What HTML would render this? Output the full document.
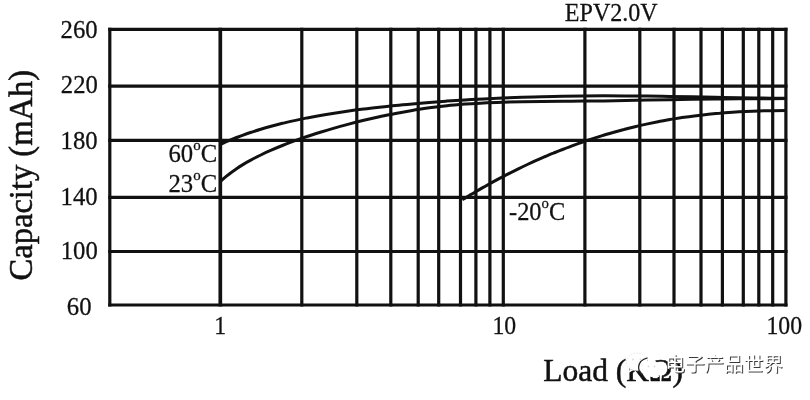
<!DOCTYPE html>
<html>
<head>
<meta charset="utf-8">
<title>EPV2.0V Capacity vs Load</title>
<style>
html,body{margin:0;padding:0;background:#fff;}
body{width:810px;height:400px;overflow:hidden;font-family:"Liberation Serif",serif;}
svg{display:block;will-change:transform;transform:translateZ(0);}
text{font-family:"Liberation Serif",serif;fill:#111;}
.g line{stroke:#111;stroke-width:3.2;}
.c path{stroke:#111;stroke-width:3.0;fill:none;stroke-linecap:butt;stroke-linejoin:round;}
.t{font-size:24px;stroke:#111;stroke-width:0.25px;}
.big{font-size:32px;stroke:#111;stroke-width:0.5px;}
.sup{font-size:14.5px;}
</style>
</head>
<body>
<svg width="810" height="400" viewBox="0 0 810 400">
<rect width="810" height="400" fill="#fff"/>
<!-- grid -->
<g class="g">
<!-- horizontals -->
<line x1="108.2" x2="787.5" y1="29.4" y2="29.4"/>
<line x1="108.2" x2="787.5" y1="86.2" y2="86.2"/>
<line x1="108.2" x2="787.5" y1="140.3" y2="140.3"/>
<line x1="108.2" x2="787.5" y1="197.3" y2="197.3"/>
<line x1="108.2" x2="787.5" y1="251.5" y2="251.5"/>
<line x1="108.2" x2="787.5" y1="305" y2="305"/>
<!-- verticals -->
<line x1="109.8" x2="109.8" y1="27.8" y2="306.6"/>
<line x1="220.3" x2="220.3" y1="27.8" y2="306.6" style="stroke-width:3.7"/>
<line x1="301.8" x2="301.8" y1="27.8" y2="306.6"/>
<line x1="356.8" x2="356.8" y1="27.8" y2="306.6"/>
<line x1="390.8" x2="390.8" y1="27.8" y2="306.6"/>
<line x1="418.2" x2="418.2" y1="27.8" y2="306.6"/>
<line x1="438.7" x2="438.7" y1="27.8" y2="306.6"/>
<line x1="460.5" x2="460.5" y1="27.8" y2="306.6"/>
<line x1="475.9" x2="475.9" y1="27.8" y2="306.6"/>
<line x1="489.9" x2="489.9" y1="27.8" y2="306.6"/>
<line x1="503.3" x2="503.3" y1="27.8" y2="306.6"/>
<line x1="584.9" x2="584.9" y1="27.8" y2="306.6"/>
<line x1="639.8" x2="639.8" y1="27.8" y2="306.6"/>
<line x1="674" x2="674" y1="27.8" y2="306.6"/>
<line x1="701" x2="701" y1="27.8" y2="306.6"/>
<line x1="722.4" x2="722.4" y1="27.8" y2="306.6"/>
<line x1="743.3" x2="743.3" y1="27.8" y2="306.6"/>
<line x1="758.8" x2="758.8" y1="27.8" y2="306.6"/>
<line x1="772.7" x2="772.7" y1="27.8" y2="306.6"/>
<line x1="785.9" x2="785.9" y1="27.8" y2="306.6"/>
</g>
<!-- curves -->
<g class="c">
<path d="M220.6,144.3 C221.1,144.1 222.0,143.7 223.3,143.1 C224.6,142.5 226.4,141.7 228.3,140.9 C230.2,140.1 232.4,139.2 234.8,138.2 C237.2,137.3 239.7,136.3 242.5,135.3 C245.2,134.3 248.1,133.3 251.2,132.3 C254.2,131.3 257.4,130.2 260.8,129.2 C264.1,128.2 267.6,127.2 271.2,126.2 C274.8,125.2 278.6,124.3 282.4,123.3 C286.3,122.4 290.3,121.4 294.4,120.6 C298.5,119.7 302.7,118.8 307.0,117.9 C311.3,117.1 315.8,116.3 320.3,115.5 C324.8,114.7 329.5,113.9 334.2,113.2 C338.9,112.5 343.8,111.8 348.7,111.1 C353.6,110.4 358.7,109.7 363.8,109.1 C368.9,108.4 374.1,107.8 379.4,107.2 C384.7,106.6 390.0,106.0 395.5,105.5 C401.0,104.9 406.5,104.4 412.2,103.9 C417.8,103.4 423.5,102.9 429.3,102.4 C435.1,102.0 441.0,101.5 446.9,101.1 C452.9,100.7 458.9,100.3 465.0,99.9 C471.2,99.6 477.3,99.2 483.6,98.9 C489.9,98.6 496.2,98.3 502.6,98.0 C509.0,97.7 515.5,97.5 522.1,97.2 C528.6,97.0 535.2,96.8 541.9,96.7 C548.6,96.5 555.4,96.3 562.2,96.2 C569.1,96.1 576.0,96.0 582.9,96.0 C589.9,95.9 596.9,95.8 604.0,95.8 C611.1,95.8 618.3,95.8 625.5,95.9 C632.8,95.9 640.1,96.0 647.4,96.1 C654.8,96.1 662.2,96.3 669.7,96.4 C677.2,96.5 684.7,96.6 692.3,96.8 C699.9,96.9 707.6,97.1 715.3,97.3 C723.1,97.4 730.8,97.6 738.7,97.7 C746.5,97.9 754.5,98.0 762.4,98.1 C770.4,98.2 782.5,98.3 786.5,98.3"/>
<path d="M220.6,181.2 C221.1,180.8 222.0,179.8 223.3,178.8 C224.6,177.7 226.4,176.1 228.3,174.7 C230.2,173.2 232.4,171.5 234.8,169.9 C237.2,168.3 239.7,166.6 242.5,164.9 C245.2,163.2 248.1,161.5 251.2,159.9 C254.2,158.2 257.4,156.6 260.8,155.0 C264.1,153.3 267.6,151.7 271.2,150.2 C274.8,148.6 278.6,147.0 282.4,145.5 C286.3,143.9 290.3,142.4 294.4,140.9 C298.5,139.4 302.7,137.9 307.0,136.5 C311.3,135.0 315.8,133.6 320.3,132.2 C324.8,130.8 329.5,129.4 334.2,128.1 C338.9,126.7 343.8,125.4 348.7,124.1 C353.6,122.8 358.7,121.5 363.8,120.3 C368.9,119.1 374.1,117.9 379.4,116.7 C384.7,115.6 390.0,114.4 395.5,113.4 C401.0,112.3 406.5,111.3 412.2,110.4 C417.8,109.4 423.5,108.6 429.3,107.8 C435.1,107.0 441.0,106.3 446.9,105.7 C452.9,105.0 458.9,104.5 465.0,104.0 C471.2,103.6 477.3,103.2 483.6,102.9 C489.9,102.6 496.2,102.4 502.6,102.2 C509.0,102.0 515.5,101.9 522.1,101.7 C528.6,101.6 535.2,101.6 541.9,101.5 C548.6,101.4 555.4,101.4 562.2,101.3 C569.1,101.3 576.0,101.2 582.9,101.1 C589.9,101.1 596.9,101.0 604.0,100.9 C611.1,100.8 618.3,100.7 625.5,100.5 C632.8,100.4 640.1,100.3 647.4,100.1 C654.8,100.0 662.2,99.8 669.7,99.7 C677.2,99.6 684.7,99.4 692.3,99.3 C699.9,99.2 707.6,99.1 715.3,99.0 C723.1,98.9 730.8,98.9 738.7,98.8 C746.5,98.8 754.5,98.8 762.4,98.7 C770.4,98.7 782.5,98.6 786.5,98.6"/>
<path d="M462.3,199.8 C462.6,199.6 463.1,199.3 463.9,198.8 C464.6,198.4 465.6,197.7 466.7,197.1 C467.8,196.4 469.1,195.6 470.4,194.8 C471.8,194.0 473.3,193.2 474.8,192.2 C476.4,191.3 478.1,190.4 479.8,189.4 C481.6,188.3 483.4,187.3 485.3,186.2 C487.2,185.1 489.2,184.0 491.3,182.9 C493.4,181.8 495.5,180.6 497.7,179.4 C499.9,178.2 502.2,177.0 504.6,175.8 C506.9,174.6 509.3,173.3 511.8,172.1 C514.3,170.9 516.8,169.6 519.4,168.3 C522.0,167.1 524.7,165.8 527.4,164.5 C530.1,163.3 532.9,162.0 535.7,160.7 C538.5,159.5 541.4,158.2 544.3,156.9 C547.2,155.7 550.2,154.4 553.3,153.2 C556.3,151.9 559.4,150.7 562.5,149.5 C565.6,148.2 568.8,147.0 572.0,145.8 C575.3,144.6 578.5,143.5 581.9,142.3 C585.2,141.1 588.6,140.0 592.0,138.9 C595.4,137.8 598.8,136.7 602.3,135.6 C605.8,134.5 609.4,133.5 613.0,132.5 C616.6,131.4 620.2,130.4 623.9,129.5 C627.5,128.5 631.2,127.6 635.0,126.7 C638.8,125.8 642.6,124.9 646.4,124.1 C650.2,123.3 654.1,122.5 658.0,121.7 C661.9,121.0 665.9,120.2 669.9,119.5 C673.9,118.9 677.9,118.2 682.0,117.6 C686.0,117.0 690.1,116.4 694.3,115.9 C698.4,115.4 702.6,114.9 706.8,114.4 C711.0,114.0 715.3,113.5 719.6,113.2 C723.9,112.8 728.2,112.5 732.5,112.2 C736.9,111.9 741.3,111.7 745.7,111.4 C750.2,111.2 754.6,111.1 759.1,110.9 C763.6,110.8 768.1,110.7 772.7,110.7 C777.3,110.6 784.2,110.6 786.5,110.6"/>
</g>
<!-- y tick labels -->
<g class="t" text-anchor="end">
<text transform="translate(97.6,38.3) scale(1.03,1.06)">260</text>
<text transform="translate(97.9,93.2) scale(1.03,1.06)">220</text>
<text transform="translate(97.6,148.7) scale(1.03,1.06)">180</text>
<text transform="translate(97.6,205.1) scale(1.03,1.06)">140</text>
<text transform="translate(97.8,259.3) scale(1.03,1.06)">100</text>
<text transform="translate(91.5,315) scale(1.03,1.06)">60</text>
</g>
<!-- x tick labels -->
<g class="t" text-anchor="middle">
<text transform="translate(220.3,334) scale(0.99,1.025)">1</text>
<text transform="translate(504.3,334) scale(0.99,1.025)">10</text>
<text transform="translate(784.2,334) scale(0.99,1.025)">100</text>
</g>
<!-- curve labels -->
<g class="t">
<text transform="translate(168.5,161.7) scale(1.03,1.05)">60<tspan class="sup" dy="-11.4">o</tspan><tspan dy="11.4">C</tspan></text>
<text transform="translate(168.5,192.1) scale(1.03,1.05)">23<tspan class="sup" dy="-11.4">o</tspan><tspan dy="11.4">C</tspan></text>
<text transform="translate(509,219.8) scale(1.018,1.04)">-20<tspan class="sup" dy="-11.4">o</tspan><tspan dy="11.4">C</tspan></text>
<text transform="translate(564.8,21.3) scale(1.003,1.04)">EPV2.0V</text>
</g>
<!-- axis titles -->
<text class="big" transform="translate(32.2,280.5) rotate(-90) scale(1.018,1.035)">Capacity (mAh)</text>
<text class="big" transform="translate(543.2,381.3) scale(0.985,1)">Load (KΩ)</text>
<!-- watermark -->
<g id="wechat">
<ellipse cx="637" cy="362" rx="10.5" ry="8.8" fill="#fff" stroke="#d8d8d8" stroke-width="0.8" stroke-dasharray="1.2 1.6"/>
<path d="M630,369 L628.5,373 L633.5,370 Z" fill="#fff"/>
<ellipse cx="651.6" cy="368.6" rx="8.5" ry="8.4" fill="#fff"/>
<path d="M652.5,376.9 L659,376.9 L658.2,371 Z" fill="#fff"/>
<path d="M647.5,357.8 C642.5,359 639,362.5 638.6,367 C638.4,370.5 640.2,373 643,374.8" fill="none" stroke="#2a2a2a" stroke-width="1.3"/>
<circle cx="633" cy="359.5" r="1" fill="#ddd"/><circle cx="640.5" cy="359.5" r="1" fill="#ddd"/>
<circle cx="648.5" cy="366.5" r="0.9" fill="#ddd"/><circle cx="654.5" cy="366.5" r="0.9" fill="#ddd"/>
</g>
<g transform="translate(-2.8,-1.3)"><text transform="translate(1,1)" x="668.1" y="372.5" textLength="117.6" lengthAdjust="spacing" style="font-family:'Liberation Sans','Noto Sans CJK SC',sans-serif;font-size:19.6px;fill:#3a3a3a;">电子产品世界</text>
<text x="668.1" y="372.5" textLength="117.6" lengthAdjust="spacing" style="font-family:'Liberation Sans','Noto Sans CJK SC',sans-serif;font-size:19.6px;fill:#fff;">电子产品世界</text></g>
</svg>
</body>
</html>
